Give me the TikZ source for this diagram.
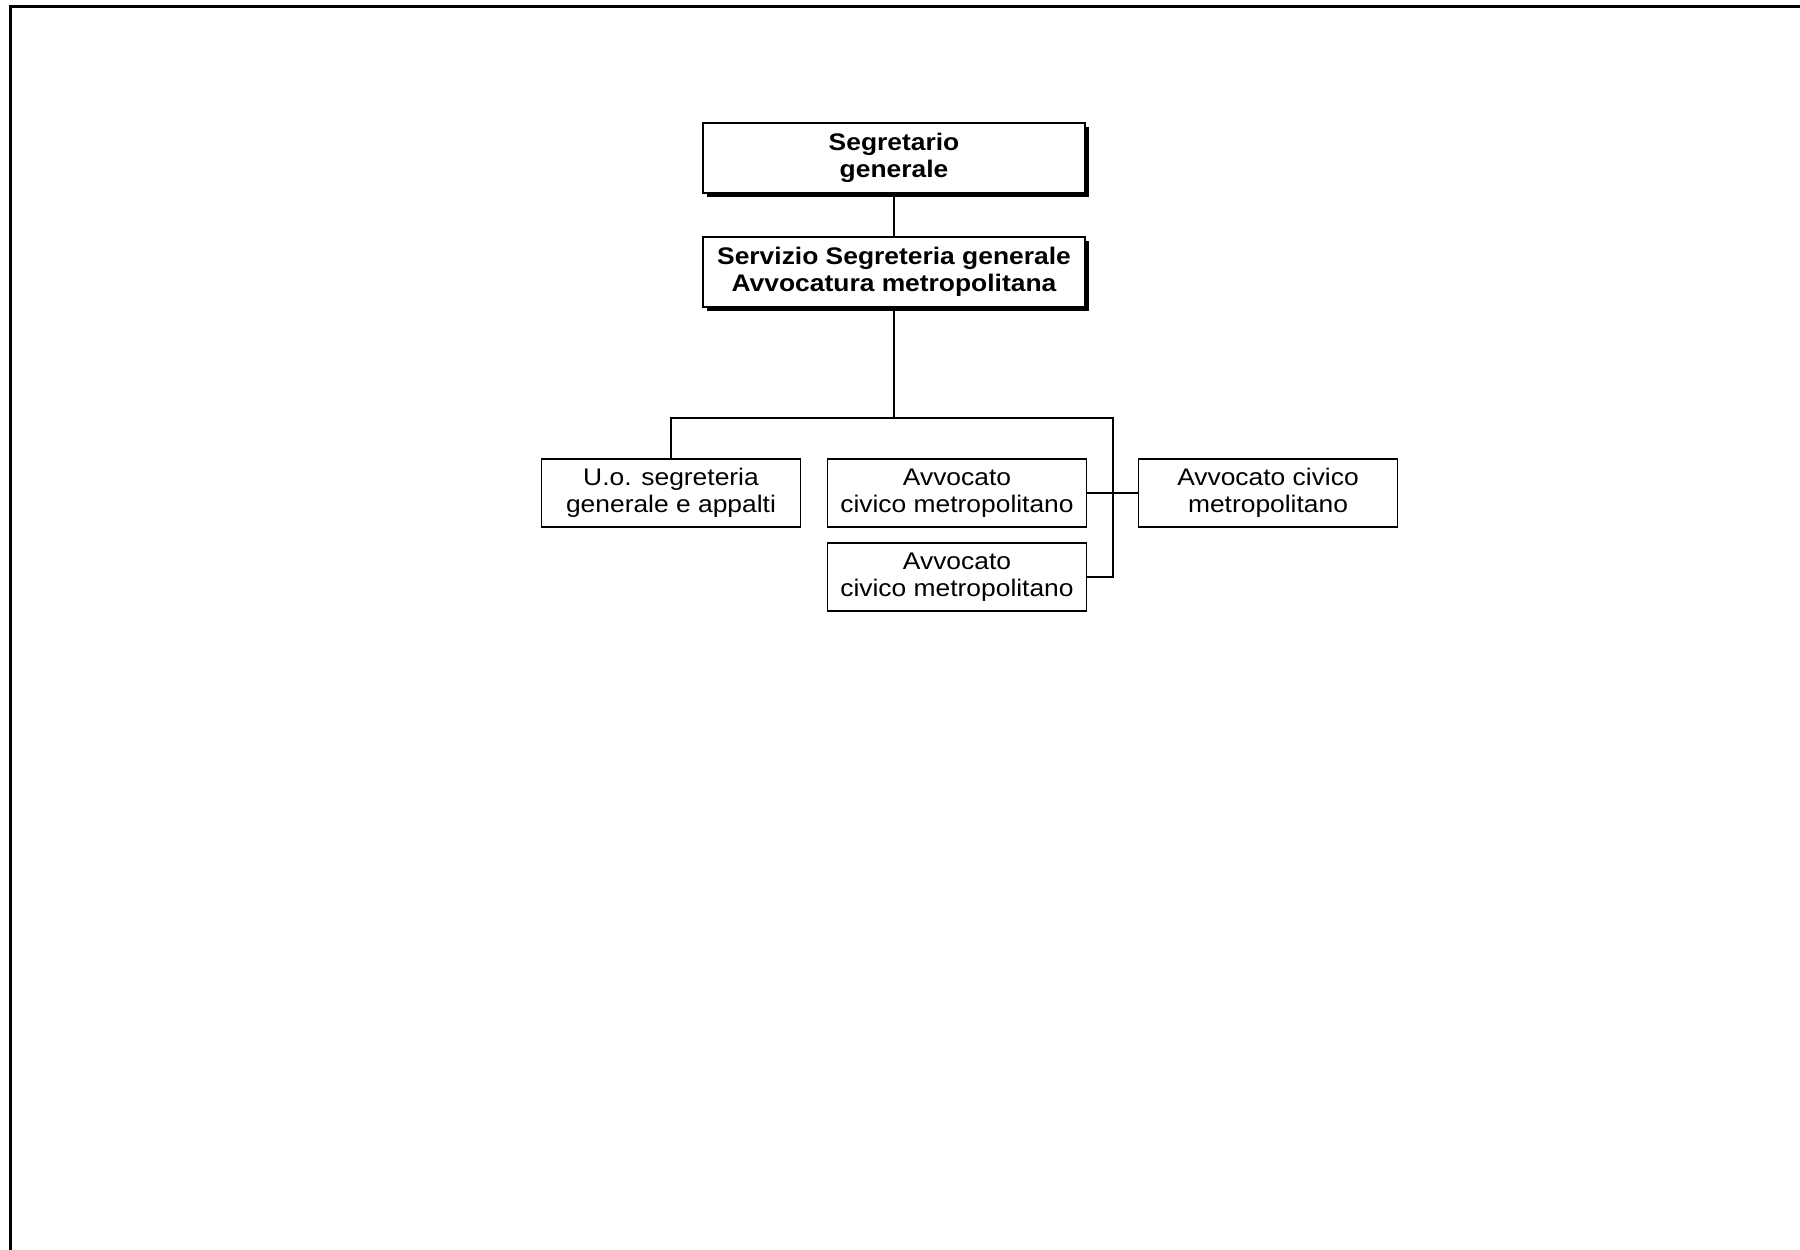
\documentclass[tikz,border=0pt]{standalone}
\usepackage{fontspec}
\setmainfont[FakeStretch=1.1]{Liberation Sans}
\usepackage{tikz}
\usetikzlibrary{shapes,arrows,positioning,shadows}

\begin{document}
\begin{tikzpicture}[x=1pt, y=-1pt,
    dirigente/.style={draw, line width=2.4pt, fill=white, inner sep=0pt, minimum width=382pt, minimum height=70pt, align=center, font=\fontsize{24}{27}\selectfont\bfseries, drop shadow={shadow xshift=4pt, shadow yshift=-4pt, fill=black, opacity=1}},
    ufficio/.style={draw, line width=1.8pt, inner sep=0pt, minimum width=259pt, minimum height=68pt, align=center, font=\fontsize{24}{27}\selectfont},
    linea/.style={line width=1.8pt}]
    \useasboundingbox (0,0) rectangle (1800,1250);
    % Cornice
    \draw[line width=3pt] (10,1250) -- (10,6) -- (1800,6);

    % Vertice
    \node[dirigente] (segretario) at (894,158) {Segretario\\generale};
    \node[dirigente] (servizio) at (894,272) {Servizio Segreteria generale\\Avvocatura metropolitana};

    % Uffici
    \node[ufficio] (uo) at (671,493) {U.o. segreteria\\generale e appalti};
    \node[ufficio] (avv_a) at (957,493) {Avvocato\\civico metropolitano};
    \node[ufficio] (avv_b) at (957,577) {Avvocato\\civico metropolitano};
    \node[ufficio] (avv_c) at (1268,493) {Avvocato civico\\metropolitano};

    % Collegamenti
    \coordinate (snodo) at (1113,418);
    \draw[linea] (segretario) -- (servizio);
    \draw[linea] (servizio.south) -- (servizio.south |- snodo);
    \draw[linea] (uo.north) |- (snodo) |- (avv_b.east);
    \draw[linea] (avv_a.east) -- (avv_c.west);
\end{tikzpicture}
\end{document}
